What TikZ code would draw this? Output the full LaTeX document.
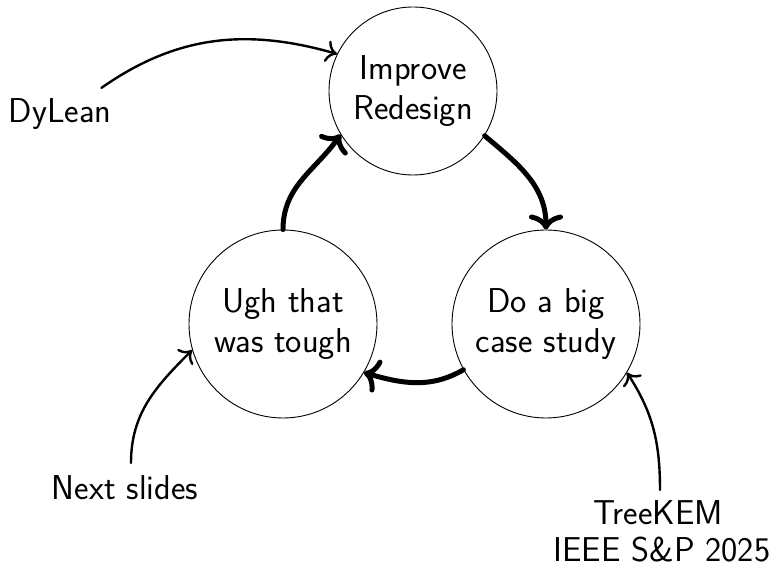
\documentclass[tikz,border=0pt]{standalone}
\usepackage{fontspec}
\usetikzlibrary{arrows.meta}
\tikzset{
  circ/.style={circle, draw, line width=0.9pt, align=center, inner sep=0pt},
  lbl/.style={inner sep=0pt, anchor=base},
  thickarrow/.style={line width=5pt, line cap=round,
    -{Computer Modern Rightarrow[length=15pt,width=34pt,line width=5pt]}},
  thinarrow/.style={line width=2.4pt, line cap=round,
    -{Computer Modern Rightarrow[length=11pt,width=22pt,line width=2.4pt]}}
}
\begin{document}
\begin{tikzpicture}[x=1pt,y=1pt,font=\sffamily\fontsize{34.5}{40}\selectfont]
\useasboundingbox (0,0) rectangle (771,569);
\node[circ, minimum size=168pt] (top) at (413,478) {Improve\\Redesign};
\node[circ, minimum size=188pt] (left) at (283,245) {Ugh that\\was tough};
\node[circ, minimum size=188pt] (right) at (546,245) {Do a big\\case study};

\node[lbl] (dy) at (60,446) {DyLean};
\node[lbl] (ns) at (125,69) {Next slides};
\node[lbl] (tk) at (658,44) {TreeKEM};
\node[lbl] (ieee) at (662,7) {IEEE S\&P 2025};

\coordinate (dystart) at ([xshift=-10pt,yshift=11pt]dy.north east);
\coordinate (nsstart) at ([xshift=6pt,yshift=13pt]ns.north);
\coordinate (tkstart) at ([xshift=2pt,yshift=11pt]tk.north);

\draw[thickarrow] (left.90) to[out=90,in=235] (top.211);
\draw[thickarrow] (top.-32) to[out=-40,in=90] (right.90);
\draw[thickarrow] (right.209) to[out=210,in=-16] (left.-31);

\draw[thinarrow] (dystart) to[out=35,in=164] (top.154);
\draw[thinarrow] (nsstart) to[out=90,in=225] (left.196);
\draw[thinarrow] (tkstart) to[out=90,in=303] (right.-31);
\end{tikzpicture}
\end{document}
